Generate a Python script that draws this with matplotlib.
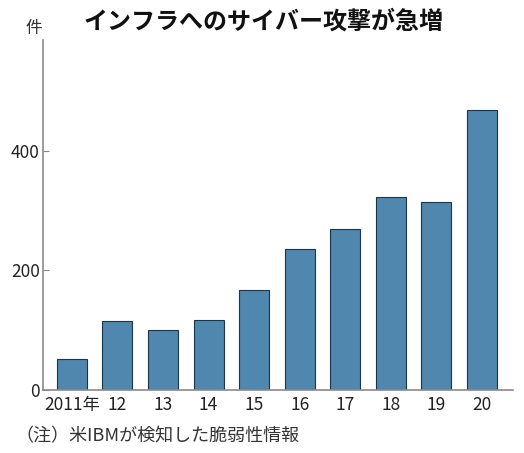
import matplotlib
matplotlib.use("Agg")
import matplotlib.pyplot as plt

plt.rcParams['font.family'] = ['Noto Sans CJK JP', 'DejaVu Sans']

# データ (米IBMが検知した脆弱性情報)
years = ['2011年', '12', '13', '14', '15', '16', '17', '18', '19', '20']
counts = [52, 116, 100, 117, 167, 236, 269, 322, 314, 468]
yticks = [0, 200, 400]

BAR = '#4f87ae'
EDGE = '#1d3548'
AXIS = '#8a8a8a'

fig = plt.figure(figsize=(5.24, 4.53), dpi=100)
ax = fig.add_axes([0.0815, 0.139, 0.8975, 0.773])

x = range(len(years))
ax.bar(x, counts, width=0.66, color=BAR, edgecolor=EDGE, linewidth=0.8)

ax.set_xlim(-0.64, 9.68)
ax.set_ylim(0, 585)

ax.set_yticks(yticks)
ax.set_yticklabels([str(v) for v in yticks])
ax.set_xticks(list(x))
ax.set_xticklabels(years)

for s in ['top', 'right']:
    ax.spines[s].set_visible(False)
for s in ['left', 'bottom']:
    ax.spines[s].set_color(AXIS)
    ax.spines[s].set_linewidth(1.2)

ax.tick_params(axis='y', direction='in', length=4, color=AXIS,
               labelsize=12.5, pad=2, labelcolor='#222222')
ax.tick_params(axis='x', length=0, labelsize=12.5, pad=4,
               labelcolor='#222222')

# タイトル・単位・注記
fig.text(0.502, 0.952, 'インフラへのサイバー攻撃が急増', ha='center', va='center',
         fontsize=17.3, fontweight='bold', color='#111111')
fig.text(0.064, 0.937, '件', ha='center', va='center', fontsize=12,
         color='#333333')
fig.text(0.030, 0.037, '（注）米IBMが検知した脆弱性情報', ha='left', va='center',
         fontsize=13, color='#333333')

fig.savefig('out.png', dpi=100)
